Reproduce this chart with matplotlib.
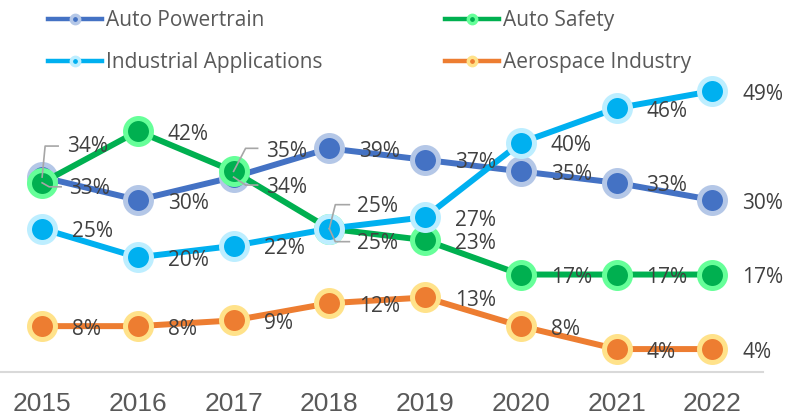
import matplotlib
matplotlib.use("Agg")
import matplotlib.pyplot as plt
from matplotlib.lines import Line2D
from matplotlib.transforms import IdentityTransform
import numpy as np

# datos
years = ["2015", "2016", "2017", "2018", "2019", "2020", "2021", "2022"]
powertrain = [34, 30, 34, 39, 37, 35, 33, 30]
safety = [33, 42, 35, 25, 23, 17, 17, 17]
industrial = [25, 20, 22, 25, 27, 40, 46, 49]
aerospace = [8, 8, 9, 12, 13, 8, 4, 4]

names = ["Auto Powertrain", "Auto Safety", "Industrial Applications", "Aerospace Industry"]
series = [powertrain, safety, industrial, aerospace]
line_colors = ["#4472C4", "#00B050", "#00B0F0", "#ED7D31"]
halo_colors = ["#B4C7E7", "#66FF99", "#BDEEFF", "#FFE28A"]

label_color = "#404040"
plt.rcParams['font.family'] = ['Open Sans', 'DejaVu Sans']

fig = plt.figure(figsize=(7.86, 4.15), dpi=100)
W, H = 786, 415
ax = fig.add_axes([0, 43 / H, 763 / W, 344 / H])
ax.set_xlim(-0.44, 7.53)
ax.set_ylim(0, 60)

x = np.arange(len(years))
for i, (vals, name) in enumerate(zip(series, names)):
    ax.plot(x, vals, color=line_colors[i], lw=4.3, marker='o', ms=18.7,
            mfc=line_colors[i], mec=halo_colors[i], mew=3.6,
            clip_on=False, zorder=2 + i, solid_capstyle='butt')

# etiquetas con lineas guia: (serie, indice) -> texto dx, dy, trazo
leaders = {
    (0, 0): (25, 31, [(0, 0), (3, 31), (16, 31)]),
    (1, 0): (27, -6, [(0, 0), (7, -4), (19, -4)]),
    (1, 2): (32, 20, [(0, 0), (12, 23), (24, 23)]),
    (0, 2): (32, -10, [(0, 0), (12, -8), (24, -8)]),
    (2, 3): (28, 22, [(0, 0), (6, 24), (20, 24)]),
    (1, 3): (28, -15, [(0, 0), (6, -13), (20, -13)]),
}

for i, vals in enumerate(series):
    for j, v in enumerate(vals):
        if (i, j) in leaders:
            dx, dy, path = leaders[(i, j)]
            bx, by = ax.transData.transform((x[j], v))
            px = [bx + p[0] for p in path]
            py = [by + p[1] for p in path]
            ax.add_line(Line2D(px, py, transform=IdentityTransform(),
                               color="#A6A6A6", lw=1.2, zorder=10))
        else:
            dx, dy = 30, -3
        ax.annotate(f"{v}%", (x[j], v), xytext=(dx, dy), textcoords='offset pixels',
                    ha='left', va='center', fontsize=15, color=label_color,
                    zorder=11, annotation_clip=False)

# eje x
for s in ["top", "right", "left"]:
    ax.spines[s].set_visible(False)
ax.spines["bottom"].set_color("#D9D9D9")
ax.spines["bottom"].set_linewidth(1.5)
ax.set_yticks([])
ax.set_xticks(x)
ax.set_xticklabels(years, fontsize=19, color="#595959", family=['Liberation Sans', 'DejaVu Sans'])
ax.tick_params(axis='x', length=0, pad=14.5)
ax.patch.set_visible(False)

# leyenda
handles = []
for i in range(4):
    handles.append(Line2D([0], [0], color=line_colors[i], lw=3.2, marker='o', ms=6,
                          mfc=line_colors[i], mec=halo_colors[i], mew=2.5))
order = [0, 2, 1, 3]
leg = fig.legend([handles[k] for k in order], [names[k] for k in order],
                 loc='upper left', bbox_to_anchor=(46 / W, 1 - 8 / H), ncol=2, frameon=False,
                 fontsize=15, handlelength=2.6, handletextpad=0.2,
                 columnspacing=5.85, labelspacing=1.0, borderaxespad=0, borderpad=0.1)
for t in leg.get_texts():
    t.set_color("#595959")

fig.savefig("out.png", dpi=100)
